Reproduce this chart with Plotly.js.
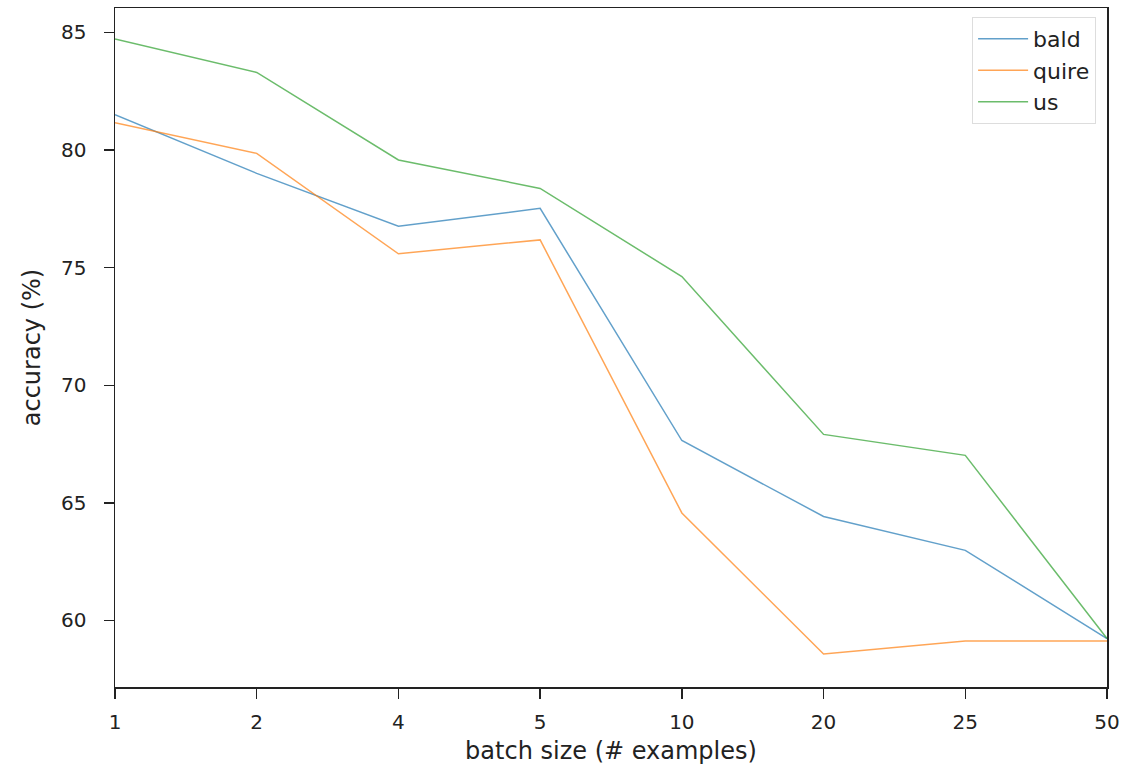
<!DOCTYPE html>
<html>
<head>
<meta charset="utf-8">
<script src="https://cdn.plot.ly/plotly-3.0.1.min.js"></script>
<style>html,body{margin:0;padding:0;background:#fff;}#chart{width:1129px;height:767px;}</style>
</head>
<body>
<div id="chart"></div>
<script>
const batchSizes = ["1", "2", "4", "5", "10", "20", "25", "50"];
const bald  = [81.50, 79.01, 76.76, 77.52, 67.65, 64.42, 62.98, 59.23];
const quire = [81.16, 79.86, 75.59, 76.18, 64.57, 58.57, 59.13, 59.13];
const us    = [84.72, 83.30, 79.58, 78.37, 74.62, 67.91, 67.02, 59.23];

const seriesNames = ["bald", "quire", "us"];
const seriesColors = ["#1f77b4", "#ff7f0e", "#2ca02c"];
const seriesValues = [bald, quire, us];

const font = "DejaVu Sans, sans-serif";
const traces = seriesValues.map((vals, i) => ({
  x: batchSizes,
  y: vals,
  type: "scatter",
  mode: "lines",
  name: seriesNames[i],
  line: {color: seriesColors[i], width: 1.5},
  opacity: 0.7
}));

const layout = {
  width: 1129, height: 767,
  margin: {l: 115, r: 22, t: 8, b: 80},
  paper_bgcolor: "#fff", plot_bgcolor: "#fff",
  font: {family: font, size: 20, color: "#222"},
  xaxis: {
    type: "category",
    range: [0, 7],
    showgrid: false, zeroline: false,
    showline: true, mirror: true, linecolor: "#222", linewidth: 1.5,
    ticks: "outside", ticklen: 10, tickwidth: 1.5, tickcolor: "#222",
    ticklabelstandoff: 6,
    tickfont: {family: font, size: 20, color: "#222"},
    title: {text: "batch size (# examples)", font: {family: font, size: 24, color: "#222"}, standoff: 9}
  },
  yaxis: {
    range: [57.17, 86.04],
    tickvals: [60, 65, 70, 75, 80, 85],
    showgrid: false, zeroline: false,
    showline: true, mirror: true, linecolor: "#222", linewidth: 1.5,
    ticks: "outside", ticklen: 10, tickwidth: 1.5, tickcolor: "#222",
    ticklabelstandoff: 13,
    tickfont: {family: font, size: 20, color: "#222"},
    title: {text: "accuracy (%)", font: {family: font, size: 24, color: "#222"}, standoff: 13}
  },
  legend: {
    x: 0.989, y: 0.987, xanchor: "right", yanchor: "top",
    bgcolor: "rgba(255,255,255,0.8)", bordercolor: "#ddd", borderwidth: 1,
    font: {family: font, size: 22, color: "#222"},
    itemwidth: 50
  },
  showlegend: true
};

Plotly.newPlot("chart", traces, layout, {displayModeBar: false, staticPlot: true});
</script>
</body>
</html>
